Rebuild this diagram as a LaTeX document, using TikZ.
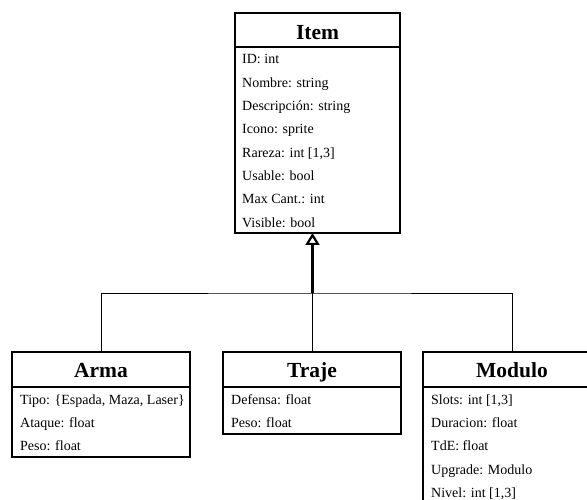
\documentclass[tikz,border=0pt]{standalone}
\usepackage{fontspec}
\setmainfont{Liberation Serif}
\usetikzlibrary{arrows.meta}
\begin{document}
\begin{tikzpicture}[x=1pt,y=-1pt,
  classbox/.style={draw, line width=2pt, inner sep=0pt, outer sep=0pt, anchor=north},
  classname/.style={font=\fontsize{21.5}{24}\selectfont\bfseries, anchor=base, inner sep=0pt},
  attr/.style={font=\fontsize{14}{16}\selectfont, anchor=base west, inner sep=0pt},
  sepline/.style={line width=2pt},
  link/.style={line width=1pt},
  inherit/.style={line width=2.2pt, -{Triangle[open, length=12pt, width=14pt]}}
]
\useasboundingbox (0,0) rectangle (587,500);
\clip (0,0) rectangle (587,500);

% Superclass
\node[classbox, minimum width=165, minimum height=220] (item) at (317.5,13) {};
\node[classname] (itemname) at (317.5,40) {Item};
\draw[sepline] (item.north west |- 0,47) -- (item.north east |- 0,47);
\node[attr] (i1) at (242,64.0)  {ID: int};
\node[attr] (i2) at (242,87.3)  {Nombre: string};
\node[attr] (i3) at (242,110.6) {Descripción: string};
\node[attr] (i4) at (242,134.0) {Icono: sprite};
\node[attr] (i5) at (242,157.3) {Rareza: int [1,3]};
\node[attr] (i6) at (242,180.6) {Usable: bool};
\node[attr] (i7) at (242,204.0) {Max Cant.: int};
\node[attr] (i8) at (242,227.3) {Visible: bool};

% Subclass Arma
\node[classbox, minimum width=178, minimum height=105] (arma) at (101,352) {};
\node[classname] (armaname) at (101,377) {Arma};
\draw[sepline] (arma.north west |- 0,387) -- (arma.north east |- 0,387);
\node[attr] (a1) at (20,404.0) {Tipo: \{Espada, Maza, Laser\}};
\node[attr] (a2) at (20,427.3) {Ataque: float};
\node[attr] (a3) at (20,450.6) {Peso: float};

% Subclass Traje
\node[classbox, minimum width=178, minimum height=82] (traje) at (312,352) {};
\node[classname] (trajename) at (312,377) {Traje};
\draw[sepline] (traje.north west |- 0,387) -- (traje.north east |- 0,387);
\node[attr] (t1) at (231,404.0) {Defensa: float};
\node[attr] (t2) at (231,427.3) {Peso: float};

% Subclass Modulo
\node[classbox, minimum width=178, minimum height=151] (modulo) at (512,352) {};
\node[classname] (moduloname) at (512,377) {Modulo};
\draw[sepline] (modulo.north west |- 0,387) -- (modulo.north east |- 0,387);
\node[attr] (m1) at (431,404.0) {Slots: int [1,3]};
\node[attr] (m2) at (431,427.3) {Duracion: float};
\node[attr] (m3) at (431,450.6) {TdE: float};
\node[attr] (m4) at (431,474.0) {Upgrade: Modulo};
\node[attr] (m5) at (431,497.3) {Nivel: int [1,3]};

% Generalization
\coordinate (junction) at (312.5,293);
\draw[link] (arma.north) |- (junction) -| (modulo.north);
\draw[link] (traje.north) -- (traje.north |- junction);
\draw[inherit] (junction) -- (junction |- item.south);
\end{tikzpicture}
\end{document}
